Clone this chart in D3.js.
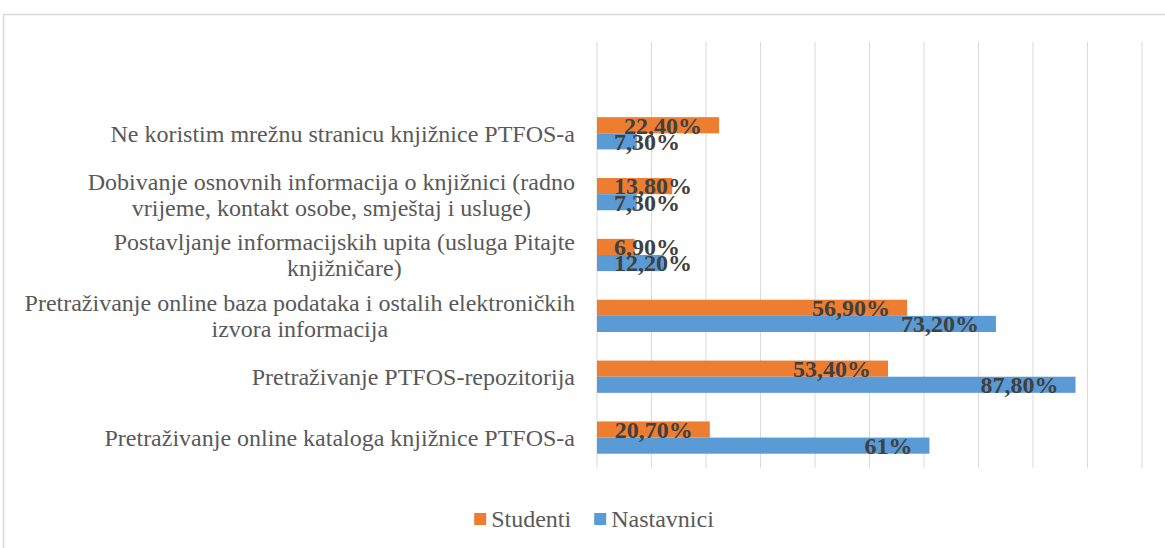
<!DOCTYPE html>
<html>
<head>
<meta charset="utf-8">
<script src="https://cdn.jsdelivr.net/npm/d3@7"></script>
<style>
  html, body { margin: 0; padding: 0; background: #fff; }
  svg { display: block; }
</style>
</head>
<body>
<div id="chart"></div>
<script>
// podaci (odozgo prema dolje)
const categories = [
    "Ne koristim mrežnu stranicu knjižnice PTFOS-a",
    "Dobivanje osnovnih informacija o knjižnici (radno vrijeme, kontakt osobe, smještaj i usluge)",
    "Postavljanje informacijskih upita (usluga Pitajte knjižničare)",
    "Pretraživanje online baza podataka i ostalih elektroničkih izvora informacija",
    "Pretraživanje PTFOS-repozitorija",
    "Pretraživanje online kataloga knjižnice PTFOS-a"
];
const studenti   = [22.4, 13.8, 6.9, 56.9, 53.4, 20.7];
const nastavnici = [7.3, 7.3, 12.2, 73.2, 87.8, 61];
const seriesNames = ["Studenti", "Nastavnici"];
const seriesColors = ["#ED7D31", "#5B9BD5"];
const xTicks = [0, 10, 20, 30, 40, 50, 60, 70, 80, 90, 100];

const W = 1165, H = 548;
const plot = {left: 597, right: 1142, top: 42, bottom: 468};
const font = "'Liberation Serif', 'Times New Roman', serif";

const svg = d3.select("#chart").append("svg")
    .attr("width", W).attr("height", H);

// okvir grafikona
svg.append("rect")
    .attr("x", 3.5).attr("y", 14.5)
    .attr("width", 1300).attr("height", 700)
    .attr("fill", "none").attr("stroke", "#d9d9d9").attr("stroke-width", 1.5);

const x = d3.scaleLinear().domain([0, 100]).range([plot.left, plot.right]);

// prvi red je prazan u originalu
const slot = (plot.bottom - plot.top) / 7;
const y = d3.scaleBand().domain(categories)
    .range([plot.top + slot, plot.bottom])
    .paddingInner(0.47).paddingOuter(0.235);
const ySub = d3.scaleBand().domain(seriesNames).range([0, y.bandwidth()]);

// mreža
svg.append("g").selectAll("line").data(xTicks).enter().append("line")
    .attr("x1", d => x(d)).attr("x2", d => x(d))
    .attr("y1", plot.top).attr("y2", plot.bottom)
    .attr("stroke", "#d9d9d9").attr("stroke-width", 1);

const rows = categories.map((c, i) => ({
    cat: c,
    vals: [
        {key: "Studenti", value: studenti[i], color: seriesColors[0]},
        {key: "Nastavnici", value: nastavnici[i], color: seriesColors[1]}
    ]
}));

// stupci
const g = svg.append("g").selectAll("g").data(rows).enter().append("g")
    .attr("transform", d => `translate(0,${y(d.cat)})`);

g.selectAll("rect").data(d => d.vals).enter().append("rect")
    .attr("x", x(0))
    .attr("y", d => ySub(d.key))
    .attr("width", d => x(d.value) - x(0))
    .attr("height", ySub.bandwidth())
    .attr("fill", d => d.color);

// oznake podataka
const fmt = v => (v % 1 === 0 ? String(v) : v.toFixed(2).replace(".", ",")) + "%";
const labels = svg.append("g");
rows.forEach(r => {
    r.vals.forEach(v => {
        const t = labels.append("text")
            .attr("y", y(r.cat) + ySub(v.key) + ySub.bandwidth() / 2)
            .attr("dy", "0.35em")
            .attr("text-anchor", "end")
            .style("font-family", font).style("font-size", "24px").style("font-weight", "bold")
            .attr("fill", "#404040")
            .text(fmt(v.value));
        const w = t.node().getComputedTextLength();
        const right = Math.max(x(v.value) - 17, x(0) + 17 + w);
        t.attr("x", right);
    });
});

// oznake kategorija (prelamanje teksta)
const catG = svg.append("g");
const labelRight = plot.left - 22;
const maxW = 562, lineH = 26;
categories.forEach(c => {
    const probe = catG.append("text")
        .style("font-family", font).style("font-size", "24px");
    const words = c.split(" ");
    const lines = [];
    let cur = "";
    words.forEach(wd => {
        const test = cur ? cur + " " + wd : wd;
        probe.text(test);
        if (probe.node().getComputedTextLength() > maxW && cur) {
            lines.push(cur);
            cur = wd;
        } else cur = test;
    });
    lines.push(cur);
    const widths = lines.map(l => { probe.text(l); return probe.node().getComputedTextLength(); });
    probe.remove();
    const blockW = d3.max(widths);
    const cx = labelRight - blockW / 2;
    const cy = y(c) + y.bandwidth() / 2;
    lines.forEach((l, i) => {
        catG.append("text")
            .attr("x", cx)
            .attr("y", cy + (i - (lines.length - 1) / 2) * lineH)
            .attr("dy", "0.35em")
            .attr("text-anchor", "middle")
            .style("font-family", font).style("font-size", "24px")
            .attr("fill", "#595959")
            .text(l);
    });
});

// legenda
const legend = svg.append("g");
const items = seriesNames.map((n, i) => {
    const t = legend.append("text")
        .style("font-family", font).style("font-size", "24px")
        .attr("fill", "#595959").text(n);
    return {name: n, color: seriesColors[i], text: t, w: t.node().getComputedTextLength()};
});
const sq = 12, gapSq = 5, gapItem = 23;
const totalW = d3.sum(items, d => sq + gapSq + d.w) + gapItem * (items.length - 1);
let lx = (plot.left + plot.right) / 2 - 30 - totalW / 2 + 30;
lx = 594 - totalW / 2;
const ly = 519;
items.forEach(it => {
    legend.append("rect")
        .attr("x", lx).attr("y", ly - sq / 2)
        .attr("width", sq).attr("height", sq)
        .attr("fill", it.color);
    it.text.attr("x", lx + sq + gapSq).attr("y", ly).attr("dy", "0.35em");
    lx += sq + gapSq + it.w + gapItem;
});
</script>
</body>
</html>
